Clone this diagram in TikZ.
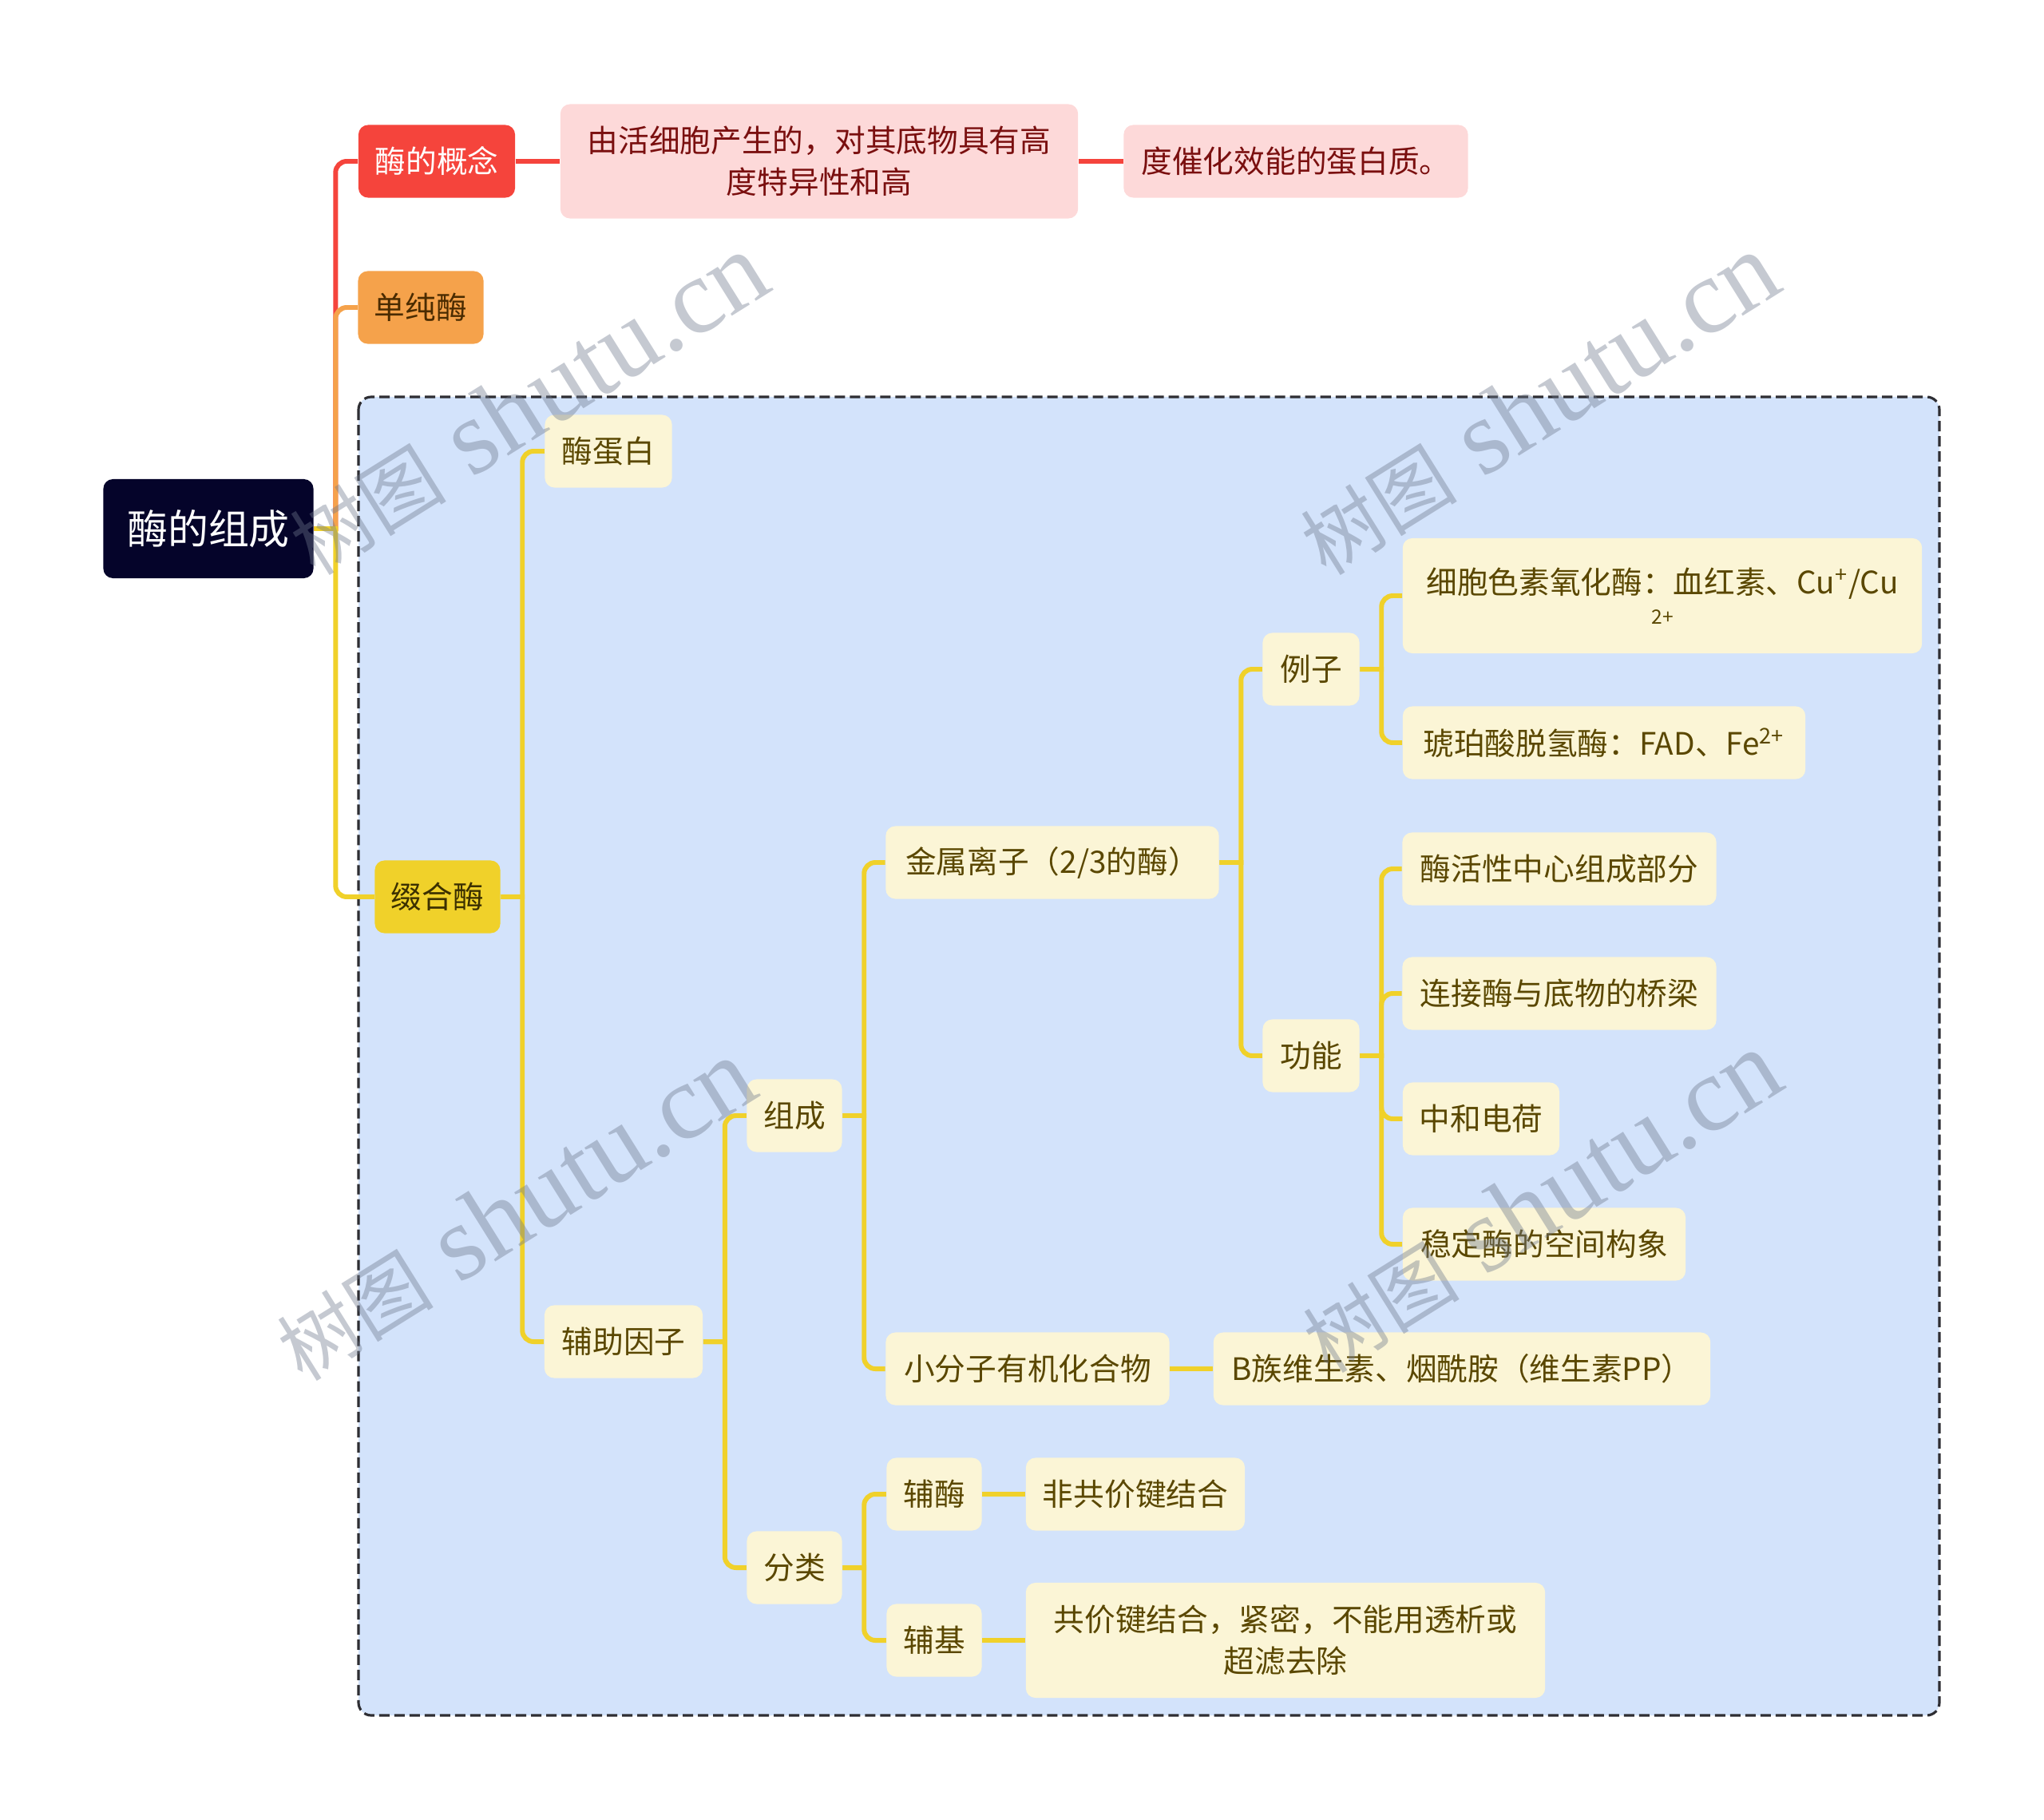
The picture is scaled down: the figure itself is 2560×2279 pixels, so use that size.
\documentclass[tikz,border=0pt]{standalone}
\usepackage{fontspec}
\newfontfamily\cjk{Noto Sans CJK SC}
\newfontfamily\wmserif{Liberation Serif}
\usetikzlibrary{positioning}

\definecolor{rootblue}{HTML}{05042A}
\definecolor{conred}{HTML}{F5443C}
\definecolor{conpink}{HTML}{FDD9D9}
\definecolor{redtext}{HTML}{7A0F0F}
\definecolor{simporange}{HTML}{F5A24B}
\definecolor{orangetext}{HTML}{4A2B00}
\definecolor{holoyellow}{HTML}{F0D12A}
\definecolor{holotext}{HTML}{3B3000}
\definecolor{paleyellow}{HTML}{FBF5D6}
\definecolor{olivetext}{HTML}{5A4700}
\definecolor{groupblue}{HTML}{D3E3FB}
\definecolor{dashgray}{HTML}{2E2E33}
\definecolor{markgray}{HTML}{6E788C}

\begin{document}
\begin{tikzpicture}[
    x=0.01cm, y=-0.01cm,
    box/.style={rounded corners=0.12cm, align=center, inner sep=0pt,
                font=\cjk\fontsize{11pt}{14.8pt}\selectfont, minimum height=0.91cm},
    leaf/.style={box, fill=paleyellow, text=olivetext},
    redbox/.style={box, fill=conpink, text=redtext},
    link/.style={line width=1.7pt},
    ylink/.style={link, draw=holoyellow},
    elbow/.style={rounded corners=0.14cm},
    wmark/.style={rotate=32, text=markgray, opacity=0.4,
                  font=\wmserif\fontsize{38pt}{38pt}\selectfont}
  ]
    \useasboundingbox (0,0) rectangle (2560,2279);
    % dashed group round the holoenzyme branch
    \draw[dashgray, fill=groupblue, line width=0.9pt,
          dash pattern=on 0.13cm off 0.06cm, rounded corners=0.16cm]
      (449,497) rectangle (2429,2148);

    \node[box, fill=rootblue, text=white, font=\cjk\fontsize{14.5pt}{18pt}\selectfont,
          minimum width=2.63cm, minimum height=1.24cm] (root) at (261,662) {酶的组成};

    \node[box, fill=conred, text=white, minimum width=1.96cm] (concept) at (547,202) {酶的概念};
    \node[redbox, minimum width=6.48cm, minimum height=1.43cm] (defa) at (1026,202)
      {由活细胞产生的，对其底物具有高\\度特异性和高};
    \node[redbox, minimum width=4.31cm] (defb) at (1623,202) {度催化效能的蛋白质。};
    \node[box, fill=simporange, text=orangetext, minimum width=1.57cm] (simple) at (527,385) {单纯酶};
    \node[box, fill=holoyellow, text=holotext, minimum width=1.57cm] (holo) at (548,1123) {缀合酶};

    \node[leaf, minimum width=1.59cm] (apo) at (762,565) {酶蛋白};
    \node[leaf, minimum width=1.98cm] (cofactor) at (781,1680) {辅助因子};
    \node[leaf, minimum width=1.19cm] (make) at (995,1397) {组成};
    \node[leaf, minimum width=1.19cm] (kind) at (995,1963) {分类};
    \node[leaf, minimum width=4.17cm] (metal) at (1318,1080) {金属离子（2/3的酶）};
    \node[leaf, minimum width=3.55cm] (organic) at (1287,1714) {小分子有机化合物};
    \node[leaf, minimum width=6.22cm] (vitb) at (1831,1714) {B族维生素、烟酰胺（维生素PP）};
    \node[leaf, minimum width=1.19cm] (coenz) at (1170,1871) {辅酶};
    \node[leaf, minimum width=2.74cm] (noncov) at (1422,1871) {非共价键结合};
    \node[leaf, minimum width=1.19cm] (prosth) at (1170,2054) {辅基};
    \node[leaf, minimum width=6.50cm, minimum height=1.44cm] (cov) at (1610,2054)
      {共价键结合，紧密，不能用透析或\\超滤去除};

    \node[leaf, minimum width=1.21cm] (example) at (1642,838) {例子};
    \node[leaf, minimum width=1.21cm] (role) at (1642,1322) {功能};
    \node[leaf, minimum width=6.50cm, minimum height=1.44cm] (cyto) at (2082,746)
      {细胞色素氧化酶：血红素、Cu\textsuperscript{+}/Cu\\[-4pt]{\fontsize{7pt}{9pt}\selectfont 2+}};
    \node[leaf, minimum width=5.04cm] (succ) at (2009,930) {琥珀酸脱氢酶：FAD、Fe\textsuperscript{2+}};
    \node[leaf, minimum width=3.93cm] (active) at (1953,1088) {酶活性中心组成部分};
    \node[leaf, minimum width=3.93cm] (bridge) at (1953,1244) {连接酶与底物的桥梁};
    \node[leaf, minimum width=1.96cm] (charge) at (1855,1401) {中和电荷};
    \node[leaf, minimum width=3.54cm] (shape) at (1934,1558) {稳定酶的空间构象};

    % first level
    \draw[link, draw=conred] (root.east) -- ++(27,0) [elbow] |- (concept.west);
    \draw[link, draw=simporange] (root.east) -- ++(27,0) [elbow] |- (simple.west);
    \draw[ylink] (root.east) -- ++(27,0) [elbow] |- (holo.west);
    \draw[link, draw=conred] (concept) -- (defa);
    \draw[link, draw=conred] (defa) -- (defb);

    % yellow tree
    \foreach \p/\c in {holo/apo, holo/cofactor, cofactor/make, cofactor/kind,
                       make/metal, make/organic, metal/example, metal/role,
                       example/cyto, example/succ, role/active, role/bridge,
                       role/charge, role/shape, kind/coenz, kind/prosth}
      \draw[ylink] (\p.east) -- ++(27,0) [elbow] |- (\c.west);
    \foreach \p/\c in {organic/vitb, coenz/noncov, prosth/cov}
      \draw[ylink] (\p) -- (\c);

    % watermarks
    \foreach \wx/\wy [count=\i] in {661/506, 1927/506, 645/1515, 1930/1505}
      \node[wmark] (wm\i) at (\wx,\wy) {{\cjk\fontsize{28pt}{28pt}\selectfont 树图} shutu.cn};
\end{tikzpicture}
\end{document}
